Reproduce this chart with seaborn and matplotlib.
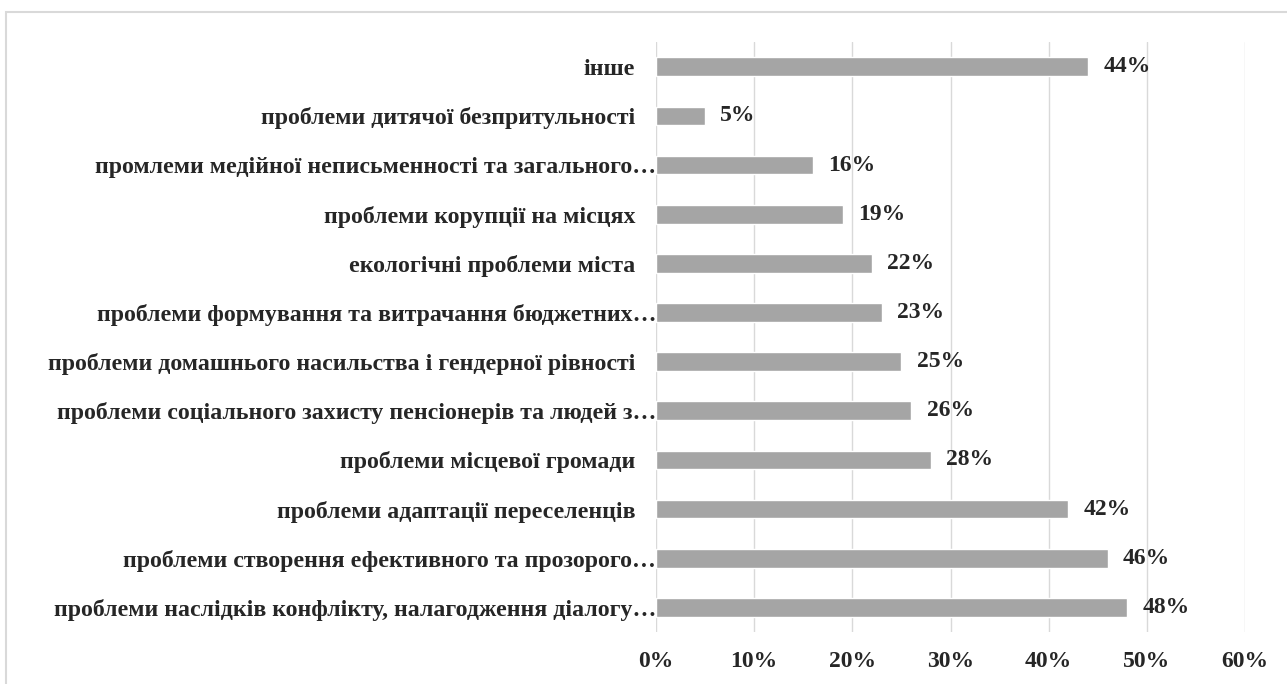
import matplotlib
matplotlib.use('Agg')
import matplotlib.pyplot as plt
import seaborn as sns
import pandas as pd
from matplotlib.patches import Rectangle

# categories from top to bottom
categories = [
    "інше",
    "проблеми дитячої безпритульності",
    "промлеми медійної неписьменності та загального…",
    "проблеми корупції на місцях",
    "екологічні проблеми міста",
    "проблеми формування та витрачання бюджетних…",
    "проблеми домашнього насильства і гендерної рівності",
    "проблеми соціального захисту пенсіонерів та людей з…",
    "проблеми місцевої громади",
    "проблеми адаптації переселенців",
    "проблеми створення ефективного та прозорого…",
    "проблеми наслідків конфлікту, налагодження діалогу…",
]
values = [44, 5, 16, 19, 22, 23, 25, 26, 28, 42, 46, 48]
x_ticks = [0, 10, 20, 30, 40, 50, 60]

df = pd.DataFrame({"category": categories, "value": values})

sns.set_style("white")
plt.rcParams['font.family'] = ['Liberation Serif', 'DejaVu Serif']
plt.rcParams['font.weight'] = 'bold'

fig = plt.figure(figsize=(12.87, 6.84), dpi=100)
ax = fig.add_axes([0.5097, 0.076, 0.4577, 0.8624])

sns.barplot(data=df, x="value", y="category", orient="h", color="#a5a5a5",
            saturation=1, width=0.38, ax=ax)

ax.set_xlim(0, 60)
ax.set_xticks(x_ticks)
ax.set_xticklabels([f"{t}%" for t in x_ticks], fontsize=17, fontweight='bold')
ax.set_xlabel("")
ax.set_ylabel("")
ax.grid(axis='x', color='#d9d9d9', linewidth=1)
ax.set_axisbelow(True)
for s in ax.spines.values():
    s.set_visible(False)
ax.tick_params(axis='both', length=0)
ax.tick_params(axis='x', pad=14)

for lab in ax.get_yticklabels():
    lab.set_fontsize(17.2)
    lab.set_fontweight('bold')
for tick, cat in zip(ax.yaxis.get_major_ticks(), categories):
    tick.set_pad(0 if cat.endswith("…") else 15)

ax.bar_label(ax.containers[0], labels=[f"{v}%" for v in values],
             padding=11, fontsize=17, fontweight='bold')

# outer chart frame
fig.patches.append(Rectangle((6 / 1287, -0.1), 1.2, 1 - 12 / 684 + 0.1,
                             transform=fig.transFigure, fill=False,
                             edgecolor='#d9d9d9', linewidth=1.5))

plt.savefig('out.png', dpi=100)
